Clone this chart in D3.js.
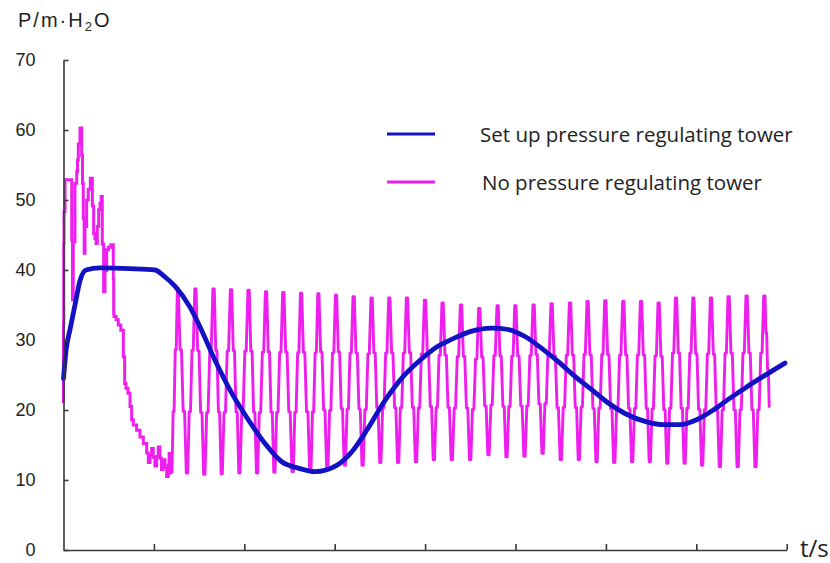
<!DOCTYPE html>
<html lang="en">
<head>
  <meta charset="UTF-8">
  <title>Pressure with / without regulating tower</title>
  <style>
    body { margin: 0; padding: 0; background: #fff; }
    svg { display: block; }
    .axis path, .axis line { stroke: #3a3a3a; stroke-width: 1.6px; }
    .axis text { font-family: "Liberation Sans", Arial, sans-serif; font-size: 18px; fill: #222; }
    .legend text { font-family: "Open Sans", sans-serif; font-size: 20.5px; fill: #222; }
  </style>
</head>
<body>
<div id="chart"></div>
<script src="https://d3js.org/d3.v7.min.js"></script>
<script>
  // axis ticks
  const yTicks = [0, 10, 20, 30, 40, 50, 60, 70];
  const xTicks = [1, 2, 3, 4, 5, 6, 7, 8];

  // series with pressure regulating tower (t, P)
  const towerT = [0, 0.028, 0.072, 0.127, 0.183, 0.249, 0.404, 0.736, 1.012, 1.123, 1.233, 1.399,
    1.491, 1.676, 1.861, 2.044, 2.229, 2.414, 2.597, 2.782, 3.022, 3.206, 3.354, 3.538, 3.759,
    3.944, 4.128, 4.312, 4.497, 4.737, 4.920, 5.105, 5.290, 5.473, 5.658, 5.843, 6.026, 6.211,
    6.451, 6.635, 6.819, 7.004, 7.188, 7.373, 7.558, 7.741, 7.981];
  const towerP = [24.5, 28.5, 31.5, 35, 38.5, 40, 40.3, 40.2, 40, 39.0, 37.7, 34.7,
    32.4, 27.1, 22.4, 18.6, 15.2, 12.6, 11.7, 11.2, 12.1, 14.3, 17.1, 21, 24.8,
    27.1, 29, 30.2, 31.2, 31.7, 31.5, 30.5, 28.8, 26.9, 24.8, 22.9, 21, 19.5,
    18.3, 17.9, 17.9, 18.6, 20, 21.7, 23.3, 24.8, 26.7];

  // series without tower: start-up transient (t, P)
  const startT = [0, 0.006, 0.028, 0.091, 0.108, 0.146, 0.164, 0.201, 0.219, 0.238, 0.274, 0.319,
    0.348, 0.374, 0.404, 0.429, 0.459, 0.496, 0.551, 0.559, 0.606, 0.662, 0.691, 0.736, 0.772,
    0.846, 0.920, 0.957, 0.993, 1.030, 1.067, 1.100, 1.123, 1.159, 1.178, 1.200];
  const startP = [21.0, 43.8, 52.9, 52.9, 35.7, 52.4, 55.7, 60.3, 52.4, 42.4, 50, 53.1,
    45.2, 43.8, 48.6, 50.5, 36.9, 42.9, 43.6, 33.8, 32.9, 31.4, 23.8, 22.4, 18.6,
    17.1, 15.2, 12.5, 14.5, 12.0, 14.7, 11.5, 12.9, 10.5, 13.8, 11.0];

  // series without tower: oscillation peaks and troughs
  const peakT = [1.270, 1.466, 1.668, 1.861, 2.055, 2.248, 2.439, 2.635, 2.826, 3.022, 3.217, 3.416,
    3.612, 3.807, 4.007, 4.201, 4.405, 4.607, 4.810, 5.006, 5.208, 5.407, 5.611, 5.805, 6.001,
    6.200, 6.396, 6.591, 6.783, 6.975, 7.170, 7.365, 7.564, 7.760];
  const peakP = [37.4, 37.3, 37.3, 37.2, 37.1, 36.9, 36.8, 36.7, 36.6, 36.4, 36.2, 36.0,
    36.0, 36.0, 35.7, 35.3, 35.0, 34.5, 34.9, 34.9, 35.0, 35.2, 35.3, 35.5, 35.6,
    35.5, 35.5, 35.3, 36.0, 36.0, 36.0, 36.2, 36.3, 36.3];
  const troughT = [1.374, 1.565, 1.757, 1.953, 2.148, 2.340, 2.542, 2.738, 2.926, 3.119, 3.316,
    3.512, 3.709, 3.907, 4.104, 4.303, 4.506, 4.709, 4.908, 5.107, 5.307, 5.509, 5.708, 5.904,
    6.100, 6.298, 6.493, 6.687, 6.878, 7.072, 7.268, 7.465, 7.663, 7.815];
  const troughP = [11.0, 10.8, 10.9, 11.0, 11.0, 11.1, 11.2, 11.3, 11.7, 12.1, 12.1,
    12.5, 12.5, 12.6, 12.9, 12.9, 12.9, 13.6, 13.3, 13.4, 13.8, 12.9, 12.9, 12.6,
    12.5, 12.6, 12.6, 12.4, 12.4, 12.1, 11.9, 11.9, 11.9, 20.5];

  const seriesNames = ["Set up pressure regulating tower", "No pressure regulating tower"];
  const colors = ["#1212c4", "#ee1fee"];

  const width = 830, height = 563;
  const x = d3.scaleLinear().domain([0, 8]).range([63.5, 786.7]);
  const y = d3.scaleLinear().domain([0, 70]).range([550, 60]);

  const svg = d3.select("#chart").append("svg")
    .attr("width", width).attr("height", height);

  // staircase curve for the start-up transient (vertical then horizontal per segment)
  function stairs(context) {
    let p = null;
    return {
      areaStart() {}, areaEnd() {},
      lineStart() { p = null; },
      lineEnd() {},
      point(px, py) {
        if (!p) context.moveTo(px, py);
        else {
          const xm = (p[0] + px) / 2;
          context.lineTo(p[0], (p[1] + py) / 2);
          context.lineTo(xm, (p[1] + py) / 2);
          context.lineTo(xm, py);
          context.lineTo(px, py);
        }
        p = [px, py];
      }
    };
  }

  // rough edge for the oscillation: steep runs with small horizontal jogs
  function jagged(context) {
    let p = null;
    const n = 3;
    return {
      areaStart() {}, areaEnd() {},
      lineStart() { p = null; },
      lineEnd() {},
      point(px, py) {
        if (!p) context.moveTo(px, py);
        else {
          const dx = (px - p[0]) / n, dy = (py - p[1]) / n;
          for (let i = 0; i < n; i++) {
            const xa = p[0] + dx * i;
            const yb = p[1] + dy * (i + 1);
            context.lineTo(xa + dx * 0.55, yb);
            context.lineTo(xa + dx, yb);
          }
        }
        p = [px, py];
      }
    };
  }

  const tower = towerT.map((t, i) => [t, towerP[i]]);
  const startUp = startT.map((t, i) => [t, startP[i]]);
  const oscill = [startUp[startUp.length - 1]];
  peakT.forEach((t, i) => {
    oscill.push([t, peakP[i]]);
    oscill.push([troughT[i], troughP[i]]);
  });

  const line = d3.line().x(d => x(d[0])).y(d => y(d[1]));

  svg.append("path")
    .datum(startUp)
    .attr("fill", "none")
    .attr("stroke", colors[1])
    .attr("stroke-width", 3)
    .attr("d", line.curve(stairs));

  svg.append("path")
    .datum(oscill)
    .attr("fill", "none")
    .attr("stroke", colors[1])
    .attr("stroke-width", 2.9)
    .attr("stroke-linejoin", "round")
    .attr("d", line.curve(jagged));

  svg.append("path")
    .datum(tower)
    .attr("fill", "none")
    .attr("stroke", colors[0])
    .attr("stroke-width", 4.8)
    .attr("stroke-linecap", "round")
    .attr("d", line.curve(d3.curveMonotoneX));

  // axes
  svg.append("g")
    .attr("class", "axis")
    .attr("transform", `translate(${x(0)},0)`)
    .call(d3.axisLeft(y).tickValues(yTicks).tickSizeInner(-5).tickSizeOuter(0).tickPadding(28));

  svg.append("g")
    .attr("class", "axis")
    .attr("transform", `translate(0,${y(0)})`)
    .call(d3.axisBottom(x).tickValues(xTicks).tickSizeInner(-6).tickSizeOuter(0).tickFormat(""));

  svg.selectAll(".axis .domain").attr("stroke-width", 1.8);

  // axis titles
  const yTitle = svg.append("text")
    .attr("x", 18).attr("y", 27)
    .style("font-family", "Liberation Sans, Arial, sans-serif")
    .style("font-size", "20px").style("letter-spacing", "2px").style("fill", "#222");
  yTitle.append("tspan").text("P/m·H");
  yTitle.append("tspan").attr("dy", 4).style("font-size", "13px").text("2");
  yTitle.append("tspan").attr("dy", -4).text("O");

  svg.append("text")
    .attr("x", 800).attr("y", 557)
    .style("font-family", "Open Sans, sans-serif")
    .style("font-size", "24px").style("fill", "#222")
    .text("t/s");

  // legend
  const legend = svg.append("g").attr("class", "legend");
  const legendY = [134, 182];
  const legendTextX = [480, 482];
  seriesNames.forEach((name, i) => {
    legend.append("line")
      .attr("x1", 387).attr("x2", 435)
      .attr("y1", legendY[i]).attr("y2", legendY[i])
      .attr("stroke", colors[i]).attr("stroke-width", 3.2);
    legend.append("text")
      .attr("x", legendTextX[i]).attr("y", legendY[i] + 8)
      .text(name);
  });
</script>
</body>
</html>
